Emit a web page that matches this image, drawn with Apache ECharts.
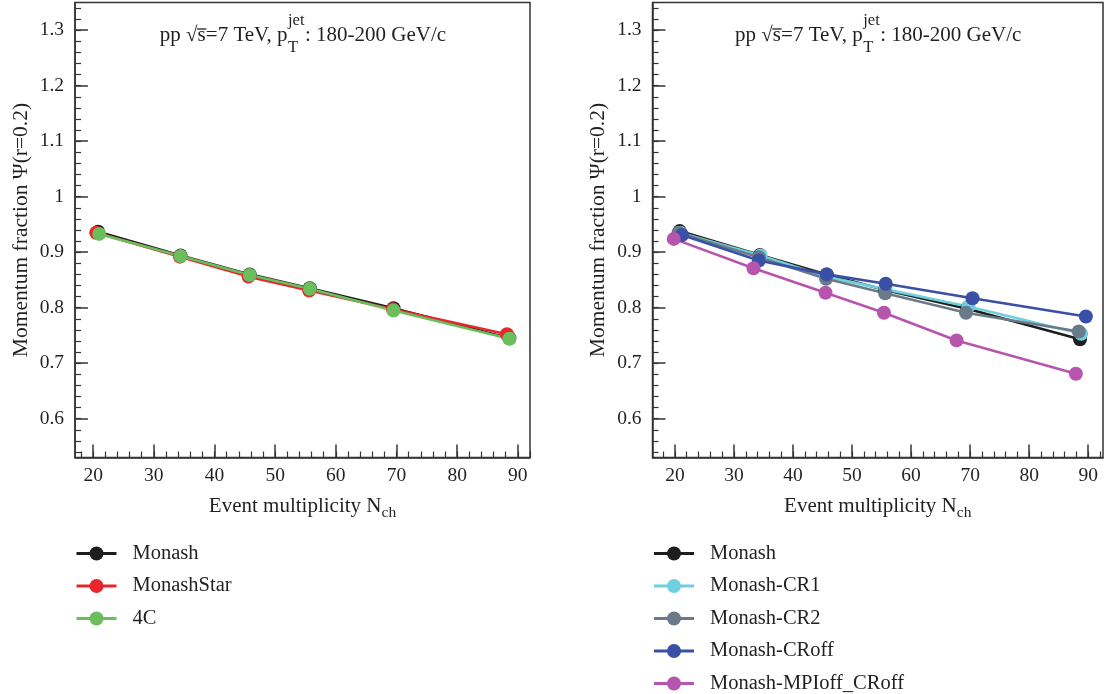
<!DOCTYPE html>
<html>
<head>
<meta charset="utf-8">
<script src="https://cdn.jsdelivr.net/npm/echarts@6/dist/echarts.min.js"></script>
<style>
  html, body { margin: 0; padding: 0; background: #fff; }
  #chart { width: 1108px; height: 694px; }
</style>
</head>
<body>
<div id="chart"></div>
<script>
// ---- Tick labels ----
const xTickValues = [20, 30, 40, 50, 60, 70, 80, 90];
const yTickValues = [0.6, 0.7, 0.8, 0.9, 1.0, 1.1, 1.2, 1.3];

// ---- Left panel: tunes ----
const monashX      = [20.8, 34.4, 45.8, 55.7, 69.5, 88.6];
const monashY      = [0.937, 0.894, 0.860, 0.835, 0.799, 0.745];
const monashStarX  = [20.5, 34.3, 45.6, 55.6, 69.4, 88.2];
const monashStarY  = [0.935, 0.892, 0.856, 0.831, 0.797, 0.752];
const tune4CX      = [21.0, 34.4, 45.8, 55.7, 69.5, 88.6];
const tune4CY      = [0.933, 0.893, 0.859, 0.834, 0.795, 0.744];

// ---- Right panel: colour-reconnection variants ----
const rMonashX     = [20.8, 34.4, 45.7, 55.6, 69.5, 88.6];
const rMonashY     = [0.938, 0.895, 0.860, 0.832, 0.798, 0.743];
const cr1X         = [20.9, 34.5, 45.6, 55.7, 69.7, 88.8];
const cr1Y         = [0.935, 0.894, 0.856, 0.833, 0.802, 0.753];
const cr2X         = [20.6, 34.2, 45.6, 55.6, 69.3, 88.4];
const cr2Y         = [0.935, 0.891, 0.852, 0.826, 0.791, 0.757];
const crOffX       = [21.2, 34.2, 45.7, 55.7, 70.4, 89.6];
const crOffY       = [0.931, 0.885, 0.860, 0.843, 0.817, 0.784];
const mpiOffX      = [19.8, 33.3, 45.5, 55.4, 67.7, 87.9];
const mpiOffY      = [0.924, 0.871, 0.827, 0.791, 0.741, 0.681];

const leftNames  = ['Monash', 'MonashStar', '4C'];
const rightNames = ['Monash', 'Monash-CR1', 'Monash-CR2', 'Monash-CRoff', 'Monash-MPIoff_CRoff'];

const FONT = '"Liberation Serif", "DejaVu Serif", serif';
const INK = '#231f20';
const AXIS = '#333';

// minor tick positions (every 2 in N_ch, every 0.02 in Psi)
const xMinor = [];
for (let v = 18; v <= 92; v += 2) xMinor.push(v);
const yMinor = [];
for (let v = 54; v <= 134; v += 2) yMinor.push(v / 100);

const grids = [
  { left: 75, top: 2.5, width: 455, height: 455 },
  { left: 652.5, top: 2.5, width: 450.5, height: 455 }
];
const xRanges = [[17, 92], [16.2, 92.5]];
const yRange = [0.53, 1.35];

function pairs(xs, ys) { return xs.map((x, i) => [x, ys[i]]); }

const xAxes = [];
const yAxes = [];
grids.forEach((g, gi) => {
  // main x axis with labels and long ticks
  xAxes.push({
    type: 'value', gridIndex: gi, position: 'bottom',
    min: xRanges[gi][0], max: xRanges[gi][1],
    name: 'Event multiplicity N{sub|ch}',
    nameLocation: 'middle', nameGap: 35,
    nameTextStyle: {
      fontFamily: FONT, fontSize: 21, color: INK,
      rich: { sub: { fontFamily: FONT, fontSize: 15.5, color: INK, padding: [12, 0, 0, 0] } }
    },
    axisLine: { show: true, onZero: false, lineStyle: { color: AXIS, width: 1.5 } },
    axisTick: { show: true, inside: true, length: 13, customValues: xTickValues, lineStyle: { color: AXIS, width: 1.5 } },
    axisLabel: { show: true, customValues: xTickValues, margin: 8, fontFamily: FONT, fontSize: 19.5, color: INK },
    splitLine: { show: false }
  });
  // minor ticks
  xAxes.push({
    type: 'value', gridIndex: gi, position: 'bottom',
    min: xRanges[gi][0], max: xRanges[gi][1],
    axisLine: { show: false },
    axisTick: { show: true, inside: true, length: 6, customValues: xMinor, lineStyle: { color: AXIS, width: 1.2 } },
    axisLabel: { show: false },
    splitLine: { show: false }
  });
  yAxes.push({
    type: 'value', gridIndex: gi, position: 'left',
    min: yRange[0], max: yRange[1],
    name: 'Momentum fraction Ψ(r=0.2)',
    nameLocation: 'middle', nameGap: 43,
    nameTextStyle: { fontFamily: FONT, fontSize: 21.5, color: INK },
    axisLine: { show: true, onZero: false, lineStyle: { color: AXIS, width: 1.5 } },
    axisTick: { show: true, inside: true, length: 13, customValues: yTickValues, lineStyle: { color: AXIS, width: 1.5 } },
    axisLabel: { show: true, customValues: yTickValues, margin: 11, fontFamily: FONT, fontSize: 19.5, color: INK },
    splitLine: { show: false }
  });
  yAxes.push({
    type: 'value', gridIndex: gi, position: 'left',
    min: yRange[0], max: yRange[1],
    axisLine: { show: false },
    axisTick: { show: true, inside: true, length: 6, customValues: yMinor, lineStyle: { color: AXIS, width: 1.2 } },
    axisLabel: { show: false },
    splitLine: { show: false }
  });
});

function lineSeries(name, color, xs, ys, gi) {
  return {
    type: 'line', name: name,
    xAxisIndex: gi * 2, yAxisIndex: gi * 2,
    data: pairs(xs, ys),
    symbol: 'circle', symbolSize: 14,
    lineStyle: { color: color, width: 2.6 },
    itemStyle: { color: color },
    emphasis: { disabled: true },
    animation: false
  };
}

const series = [
  lineSeries('Monash',     '#1e1e1e', monashX, monashY, 0),
  lineSeries('MonashStar', '#e8262b', monashStarX, monashStarY, 0),
  lineSeries('4C',         '#6abf5c', tune4CX, tune4CY, 0),
  lineSeries('Monash',              '#1e1e1e', rMonashX, rMonashY, 1),
  lineSeries('Monash-CR1',          '#6fcfdc', cr1X, cr1Y, 1),
  lineSeries('Monash-CR2',          '#6b7a89', cr2X, cr2Y, 1),
  lineSeries('Monash-CRoff',        '#3a4fa6', crOffX, crOffY, 1),
  lineSeries('Monash-MPIoff_CRoff', '#b655ad', mpiOffX, mpiOffY, 1)
];

function legendFor(names, left) {
  return {
    data: names, orient: 'vertical', left: left, top: 543, height: 151,
    padding: 0,
    itemWidth: 40, itemHeight: 17.5, itemGap: 11.5,
    selectedMode: false,
    lineStyle: { width: 3 },
    textStyle: { fontFamily: FONT, fontSize: 20.5, color: INK, padding: [0, 0, 0, 11] }
  };
}

// Title: pp sqrt(s)=7 TeV, p_T^jet: 180-200 GeV/c, built from text pieces
const measureCtx = document.createElement('canvas').getContext('2d');
function textWidth(str, size) {
  measureCtx.font = size + 'px ' + FONT;
  return measureCtx.measureText(str).width;
}
function titleGraphics(cx) {
  const big = 21, small = 16.5;
  const yMid = 35.5;
  const parts = ['pp \u221A', 's', '=7 TeV, p', ': 180-200 GeV/c'];
  const w = parts.map(p => textWidth(p, big));
  const wSub = textWidth('T', small);
  const wSup = textWidth('jet', small);
  const wScript = Math.max(wSub, wSup);
  const total = w[0] + w[1] + w[2] + wScript + w[3];
  let x = cx - total / 2;
  const style = (t, size) => ({ text: t, fontFamily: FONT, fontSize: size, fill: INK, verticalAlign: 'middle', align: 'left' });
  const els = [];
  els.push({ type: 'text', x: x, y: yMid, style: style(parts[0], big) });
  x += w[0];
  const sx = x;
  els.push({ type: 'text', x: x, y: yMid, style: style(parts[1], big) });
  x += w[1];
  els.push({ type: 'line', shape: { x1: sx - 0.5, y1: 29, x2: x + 0.5, y2: 29 }, style: { stroke: INK, lineWidth: 1.3 } });
  els.push({ type: 'text', x: x, y: yMid, style: style(parts[2], big) });
  x += w[2];
  els.push({ type: 'text', x: x + 0.5, y: 48, style: style('T', small) });
  els.push({ type: 'text', x: x + 0.5, y: 21, style: style('jet', small) });
  x += wScript + 1;
  els.push({ type: 'text', x: x, y: yMid, style: style(parts[3], big) });
  return els;
}

const chart = echarts.init(document.getElementById('chart'), null, { renderer: 'canvas' });
chart.setOption({
  backgroundColor: '#fff',
  animation: false,
  grid: grids.map(g => Object.assign({ show: true, borderColor: AXIS, borderWidth: 1.5, backgroundColor: 'transparent' }, g)),
  xAxis: xAxes,
  yAxis: yAxes,
  legend: [legendFor(leftNames, 75), legendFor(rightNames, 652.5)],
  series: series,
  graphic: titleGraphics(grids[0].left + grids[0].width / 2)
    .concat(titleGraphics(grids[1].left + grids[1].width / 2))
});
</script>
</body>
</html>
